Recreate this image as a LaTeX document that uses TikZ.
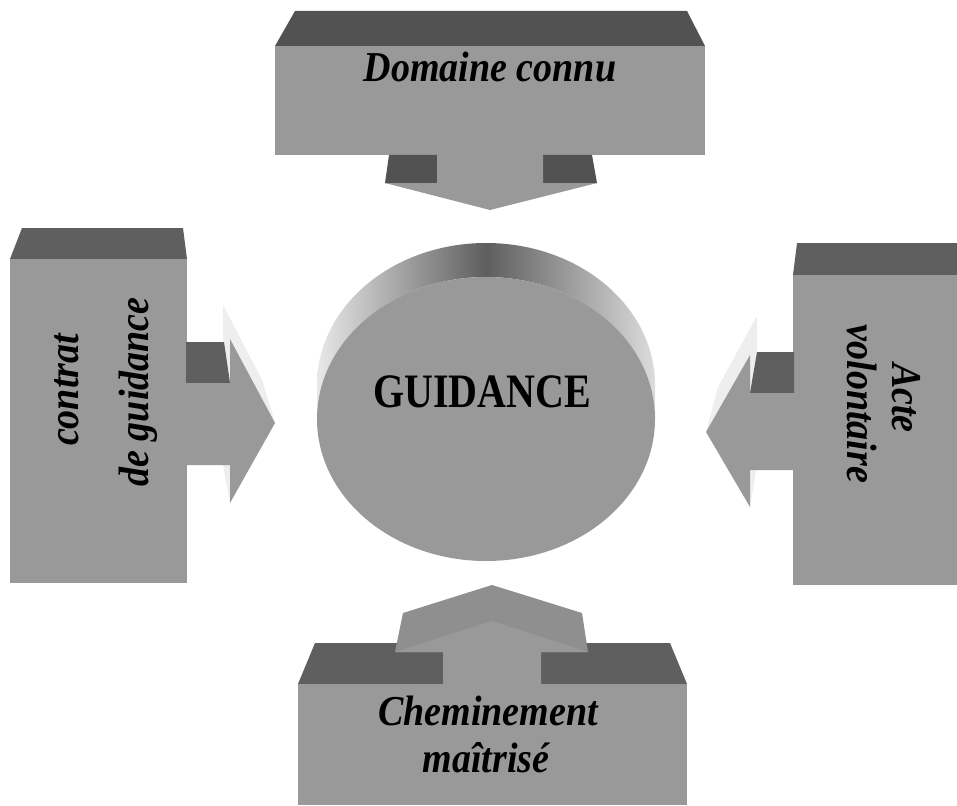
\documentclass[tikz,border=0pt]{standalone}
\usepackage{fontspec}
\setmainfont{Liberation Serif}
\usepackage{graphicx}
\definecolor{face}{HTML}{999999}
\definecolor{darkA}{HTML}{525252}
\definecolor{darkB}{HTML}{5F5F5F}
\definecolor{headgray}{HTML}{8F8F8F}
\definecolor{sliver}{HTML}{EEEEEE}
\definecolor{sideL}{HTML}{E8E8E8}
\definecolor{sideM}{HTML}{5E5E5E}
\definecolor{sideR}{HTML}{DCDCDC}
\newcommand{\tallish}[1]{\scalebox{1}[1.12]{#1}}
\begin{document}
\begin{tikzpicture}[x=1pt,y=-1pt,
  frontface/.style={fill=face},
  topA/.style={fill=darkA},
  topB/.style={fill=darkB},
  lbl/.style={font=\fontsize{38}{44}\selectfont\bfseries\itshape, inner sep=0pt},
  guid/.style={font=\fontsize{40}{46}\selectfont\bfseries, inner sep=0pt}]
\fill[white] (0,0) rectangle (957,805);
\useasboundingbox (0,0) rectangle (957,805);

% top box
\fill[topA] (295,11) -- (687,11) -- (705,46) -- (275,46) -- cycle;
\fill[frontface] (275,46) rectangle (705,155);
\fill[topA] (389,155) -- (437,155) -- (437,183) -- (385,183) -- cycle;
\fill[topA] (543,155) -- (592,155) -- (597,183) -- (543,183) -- cycle;
\fill[frontface] (437,154) -- (543,154) -- (543,183) -- (597,183) -- (490,210) -- (385,183) -- (437,183) -- cycle;

% left box
\fill[topB] (22,228) -- (183,228) -- (187,259) -- (10,259) -- cycle;
\fill[frontface] (10,259) rectangle (187,583);
\fill[sliver] (223,305) -- (262,380) -- (275,423) -- (230,383) -- (223,383) -- cycle;
\fill[sliver] (223,465) -- (230,465) -- (230,503) -- cycle;
\fill[topB] (186,342) -- (224,342) -- (230,383) -- (186,383) -- cycle;
\fill[frontface] (186,383) -- (230,383) -- (230,339) -- (275,423) -- (230,503) -- (230,465) -- (186,465) -- cycle;

% right box
\fill[topB] (797,243) -- (957,243) -- (957,275) -- (793,275) -- cycle;
\fill[frontface] (793,275) rectangle (957,585);
\fill[sliver] (757,316) -- (718,387) -- (706,432) -- (750,393) -- (757,393) -- cycle;
\fill[sliver] (756,470) -- (750,470) -- (750,507) -- cycle;
\fill[topB] (757,352) -- (794,352) -- (794,393) -- (750,393) -- cycle;
\fill[frontface] (794,393) -- (750,393) -- (750,355) -- (706,432) -- (750,507) -- (750,470) -- (794,470) -- cycle;

% bottom box
\fill[topB] (315,643) -- (670,643) -- (687,684) -- (298,684) -- cycle;
\fill[frontface] (298,684) rectangle (687,805);
\fill[headgray] (395,652) -- (403,613) -- (492,585) -- (582,613) -- (588,652) -- cycle;
\fill[frontface] (395,652) -- (492,621) -- (588,652) -- (541,652) -- (541,685) -- (443,685) -- (443,652) -- cycle;

% cylinder
\shade[left color=sideL, right color=sideR, middle color=sideM]
  (317,419) arc[start angle=180, end angle=360, x radius=169, y radius=142]
  -- (655,385) arc[start angle=0, end angle=-180, x radius=169, y radius=142] -- cycle;
\fill[frontface] (486,419) ellipse[x radius=169, y radius=142];

% texts
\node[lbl, anchor=base] (dom) at (490,82) {\tallish{Domaine connu}};
\node[lbl, anchor=base] (chem1) at (488,725) {\tallish{Cheminement}};
\node[lbl, anchor=base] (chem2) at (486,772) {\tallish{maîtrisé}};
\node[lbl, rotate=90, anchor=base] (con1) at (78,390) {\tallish{contrat}};
\node[lbl, rotate=90, anchor=base] (con2) at (148,392) {\tallish{de guidance}};
\node[lbl, rotate=-90, anchor=base] (act1) at (892,398) {\tallish{Acte}};
\node[lbl, rotate=-90, anchor=base] (act2) at (847,404) {\tallish{volontaire}};
\node[guid, anchor=base] (g) at (482,407) {\scalebox{1}[1.2]{GUIDANCE}};
\end{tikzpicture}
\end{document}
